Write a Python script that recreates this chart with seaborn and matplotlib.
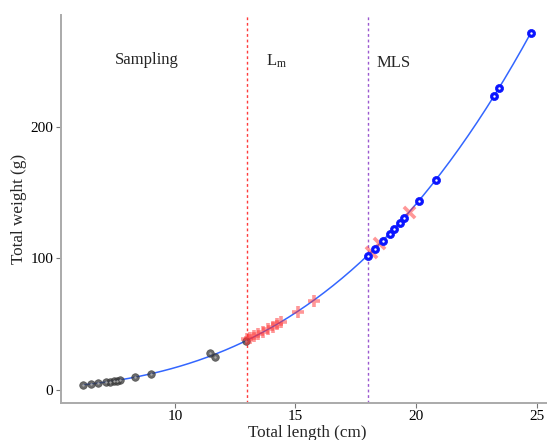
import numpy as np
import pandas as pd
import matplotlib
matplotlib.use("Agg")
import matplotlib.pyplot as plt
import seaborn as sns

# ---- data ----
gray_len = [6.21, 6.51, 6.82, 7.14, 7.32, 7.46, 7.59, 7.73, 8.34, 9.03, 11.45, 11.66, 12.97]
gray_wt = [4.2, 4.7, 5.2, 5.8, 6.3, 6.8, 7.2, 7.7, 9.6, 12.5, 28.4, 24.9, 37.5]

red_len = [12.99, 13.12, 13.29, 13.45, 13.64, 13.85, 14.05, 14.23, 14.40, 15.09, 15.78]
red_wt = [38.6, 39.5, 41.1, 42.5, 44.3, 46.2, 48.1, 50.2, 51.9, 59.5, 67.9]
redx_len = [18.13, 18.48, 19.72]
redx_wt = [105.2, 111.6, 135.6]

blue_len = [18.02, 18.31, 18.62, 18.93, 19.10, 19.34, 19.51, 20.14, 20.83, 23.25, 23.44, 24.77]
blue_wt = [101.9, 107.2, 113.3, 118.4, 122.4, 127.0, 130.6, 143.2, 159.2, 223.6, 229.3, 271.2]

lm_value = 13.0
mls_value = 18.0
x_ticks = [10, 15, 20, 25]
y_ticks = [0, 100, 200]

sns.set_theme(style="white")
plt.rcParams['font.family'] = ['Liberation Serif', 'DejaVu Serif']
plt.rcParams['mathtext.fontset'] = 'custom'
plt.rcParams['mathtext.rm'] = 'Liberation Serif'
plt.rcParams['mathtext.it'] = 'Liberation Serif'

fig = plt.figure(figsize=(5.47, 4.40), dpi=100)
ax = fig.add_axes([0.111, 0.0848, 0.901, 0.881])

# fitted length-weight curve (log-log least squares on all points)
all_len = np.array(gray_len + red_len + redx_len + blue_len)
all_wt = np.array(gray_wt + red_wt + redx_wt + blue_wt)
b, loga = np.polyfit(np.log(all_len), np.log(all_wt), 1)
xs = np.linspace(all_len.min(), all_len.max(), 200)
fit = pd.DataFrame({"len": xs, "wt": np.exp(loga) * xs ** b})

ax.axvline(lm_value, color="#ff3b3b", ls=(0, (2, 2)), lw=1.0, zorder=1)
ax.axvline(mls_value, color="#9b59d0", ls=(0, (2, 2)), lw=1.0, zorder=1)

sns.lineplot(data=fit, x="len", y="wt", color="#3366FF", lw=1.1, ax=ax, zorder=2)

gdf = pd.DataFrame({"len": gray_len, "wt": gray_wt})
sns.scatterplot(data=gdf, x="len", y="wt", marker="o", s=30, color="#3a3a3a",
                edgecolor="#3a3a3a", linewidth=0.5, alpha=0.75, ax=ax, zorder=3)
sns.scatterplot(data=gdf, x="len", y="wt", marker="o", s=3, color="#bbbbbb",
                linewidth=0, alpha=0.8, ax=ax, zorder=3)

rdf = pd.DataFrame({"len": red_len, "wt": red_wt})
sns.scatterplot(data=rdf, x="len", y="wt", marker="+", s=80, color="#ff3030",
                linewidth=2.6, alpha=0.5, ax=ax, zorder=4)
rxdf = pd.DataFrame({"len": redx_len, "wt": redx_wt})
sns.scatterplot(data=rxdf, x="len", y="wt", marker="x", s=65, color="#ff3030",
                linewidth=2.6, alpha=0.5, ax=ax, zorder=4)

bdf = pd.DataFrame({"len": blue_len, "wt": blue_wt})
sns.scatterplot(data=bdf, x="len", y="wt", marker="o", s=34, color="#0a14ff",
                edgecolor="#0a14ff", linewidth=0.5, ax=ax, zorder=5)
sns.scatterplot(data=bdf, x="len", y="wt", marker="o", s=3, color="white",
                linewidth=0, ax=ax, zorder=6)

ax.set_xlim(5.27, 25.7)
ax.set_ylim(-9.6, 284.8)
ax.set_xticks(x_ticks)
ax.set_yticks(y_ticks)

for side in ["top", "right"]:
    ax.spines[side].set_visible(False)
for side in ["left", "bottom"]:
    ax.spines[side].set_color("#aaaaaa")
    ax.spines[side].set_linewidth(1.4)
ax.tick_params(axis="both", colors="#777777", length=3.5, width=0.8, labelsize=11,
               labelcolor="black", pad=2, left=True, bottom=True)

ax.set_xlabel("Total length (cm)", fontsize=12.3, labelpad=1)
ax.set_ylabel("Total weight (g)", fontsize=12.3, labelpad=2)

ax.text(7.50, 250.7, "Sampling", fontsize=12, va="center", ha="left")
ax.text(13.78, 249.5, r"L$_\mathrm{m}$", fontsize=12, va="center", ha="left")
ax.text(18.36, 248.6, "MLS", fontsize=12, va="center", ha="left")

fig.savefig("out.png", dpi=100)
